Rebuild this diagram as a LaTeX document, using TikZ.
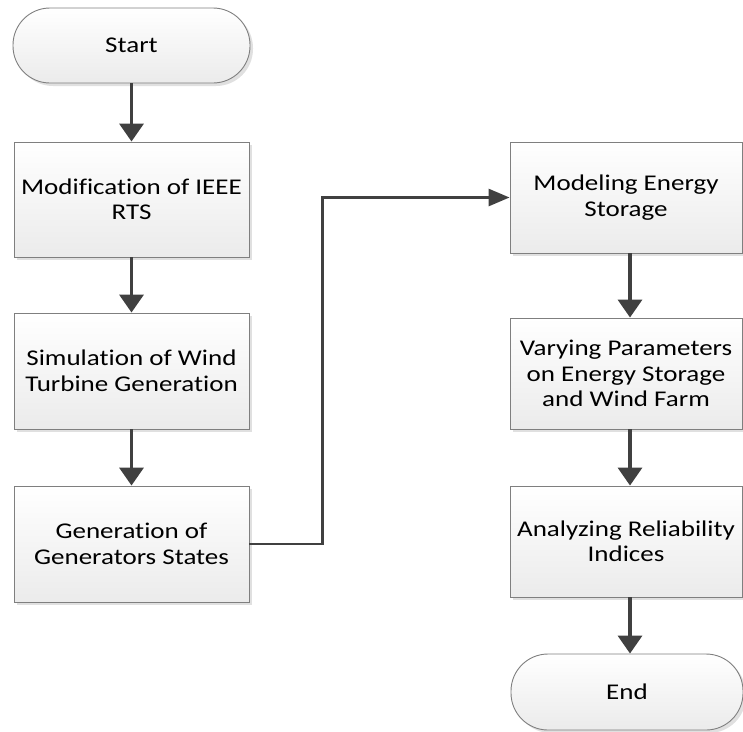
\documentclass[tikz,border=0pt]{standalone}
\usepackage{fontspec}
\setmainfont{Carlito}[FakeStretch=1.2, Ligatures=NoCommon]
\usetikzlibrary{arrows.meta,shadows,positioning}
\definecolor{edgegray}{HTML}{7F7F7F}
\definecolor{arrowgray}{HTML}{404040}
\definecolor{boxbottom}{HTML}{EBEBEB}
\tikzset{
  boxbase/.style={draw=edgegray, line width=0.9pt, top color=white, bottom color=boxbottom,
    drop shadow={shadow xshift=3pt, shadow yshift=-3pt, fill=black!12, opacity=1},
    inner sep=0pt, align=center,
    font=\fontsize{22.5}{25.5}\selectfont},
  stepbox/.style={boxbase, rectangle},
  termbox/.style={boxbase, rectangle, rounded corners=37pt},
  flow/.style={draw=arrowgray, line width=3.6pt, -{Triangle[width=24pt,length=18pt]}},
  link/.style={draw=arrowgray, line width=2.8pt, -{Triangle[width=17pt,length=21pt]}},
}
\begin{document}
\begin{tikzpicture}[x=1pt,y=-1pt]
\useasboundingbox (0,0) rectangle (743,731);
\begin{scope}
\clip (0,0) rectangle (743,731);
\node[termbox, minimum width=237pt, minimum height=75pt] (start) at (131.5,45.5) {Start};
\node[stepbox, minimum width=235pt, minimum height=115pt] (b1) at (131.5,199.5) {Modification of IEEE\\RTS};
\node[stepbox, minimum width=235pt, minimum height=116pt] (b2) at (131.5,371) {Simulation of Wind\\Turbine Generation};
\node[stepbox, minimum width=235pt, minimum height=116pt] (b3) at (131.5,544) {Generation of\\Generators States};
\node[stepbox, minimum width=232pt, minimum height=111pt] (b4) at (626,197.5) {Modeling Energy\\Storage};
\node[stepbox, minimum width=232pt, minimum height=111pt] (b5) at (626,373.5) {Varying Parameters\\on Energy Storage\\and Wind Farm};
\node[stepbox, minimum width=232pt, minimum height=111pt] (b6) at (626,541.5) {Analyzing Reliability\\Indices};
\node[termbox, minimum width=232pt, minimum height=76pt] (end) at (627,692) {End};

\draw[flow] (start.south) -- (b1.north);
\draw[flow] (b1.south) -- (b2.north);
\draw[flow] (b2.south) -- (b3.north);
\draw[link] (b3.east) -- ++(73,0) |- (b4.west);
\draw[flow] ([xshift=4pt]b4.south) -- ([xshift=4pt]b5.north);
\draw[flow] ([xshift=4pt]b5.south) -- ([xshift=4pt]b6.north);
\draw[flow] ([xshift=4pt]b6.south) -- ([xshift=3pt]end.north);
\end{scope}
\end{tikzpicture}
\end{document}
